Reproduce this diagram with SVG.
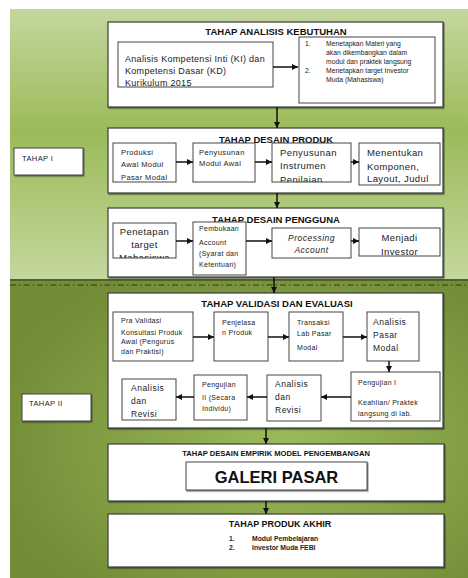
<svg xmlns="http://www.w3.org/2000/svg" width="468" height="578" viewBox="0 0 468 578">
<defs>
<linearGradient id="gTop" x1="0" y1="0" x2="0" y2="1">
<stop offset="0" stop-color="#c4d79f"/>
<stop offset="0.45" stop-color="#9bbb59"/>
<stop offset="1" stop-color="#c4d79f"/>
</linearGradient>
<radialGradient id="gBot" cx="0.6" cy="0.55" r="0.65">
<stop offset="0" stop-color="#9bbb59"/>
<stop offset="1" stop-color="#728c37"/>
</radialGradient>
<filter id="sh" x="-5%" y="-5%" width="110%" height="115%">
<feDropShadow dx="1" dy="1.2" stdDeviation="0.6" flood-color="#222" flood-opacity="0.55"/>
</filter>
<marker id="ah" markerUnits="userSpaceOnUse" markerWidth="6" markerHeight="6" refX="6" refY="3" orient="auto">
<path d="M0,0 L6,3 L0,6 z" fill="#111"/>
</marker>
<clipPath id="c1"><rect x="118" y="42" width="155" height="45"/></clipPath>
<clipPath id="c2a"><rect x="113" y="143" width="63" height="39"/></clipPath>
<clipPath id="c2c"><rect x="272" y="143" width="79" height="39"/></clipPath>
<clipPath id="c3a"><rect x="113" y="223" width="63" height="35"/></clipPath>
<clipPath id="c3d"><rect x="359" y="228" width="81" height="28"/></clipPath>
</defs>
<style>
.ob{fill:#fff;stroke:#3a3a3a;stroke-width:1.2;filter:url(#sh)}
.ib{fill:#fff;stroke:#444;stroke-width:1}
.ttl{font-family:"Liberation Sans",Arial,sans-serif;font-weight:bold;fill:#111;text-anchor:middle}
.tx{font-family:"Liberation Sans",Arial,sans-serif;fill:#222}
.s7{font-size:7px;letter-spacing:0.3px}
.s75{font-size:7.5px;letter-spacing:0.4px}
.s85{font-size:8.5px;letter-spacing:0.5px}
.s95{font-size:9.5px;letter-spacing:0.4px}
.ln{stroke:#111;stroke-width:1.5;fill:none;marker-end:url(#ah)}
</style>
<rect x="0" y="0" width="468" height="578" fill="#fff"/>
<rect x="10" y="9" width="458" height="271" fill="url(#gTop)"/>
<rect x="10" y="279" width="458" height="299" fill="url(#gBot)"/>
<line x1="10" y1="280" x2="468" y2="280" stroke="#4f6228" stroke-width="2"/>
<line x1="10" y1="285" x2="468" y2="285" stroke="#2e3a17" stroke-width="1" stroke-dasharray="6,3,1.5,3"/>

<g id="tahap1">
<rect class="ib" x="14" y="148" width="69" height="27" filter="url(#sh)"/>
<text class="tx s75" x="22" y="161">TAHAP I</text>
</g>
<g id="tahap2">
<rect class="ib" x="22" y="394" width="69" height="27" filter="url(#sh)"/>
<text class="tx s75" x="29" y="406">TAHAP II</text>
</g>

<g id="analisis">
<rect class="ob" x="108" y="22" width="335" height="85"/>
<text class="ttl" x="276" y="34.5" font-size="9.5">TAHAP ANALISIS KEBUTUHAN</text>
<rect class="ib" x="118" y="42" width="155" height="45"/>
<g clip-path="url(#c1)">
<text class="tx" font-size="9" letter-spacing="0.3" x="125" y="62">Analisis Kompetensi Inti (KI) dan</text>
<text class="tx" font-size="9" letter-spacing="0.3" x="125" y="74">Kompetensi Dasar (KD)</text>
<text class="tx" font-size="9" letter-spacing="0.3" x="125" y="85.5">Kurikulum 2015</text>
</g>
<rect class="ib" x="299" y="37" width="136" height="66"/>
<g class="tx" font-size="6.8">
<text x="305" y="45.5">1.</text>
<text x="326" y="45.5">Menetapkan Materi yang</text>
<text x="326" y="54.5">akan dikembangkan dalam</text>
<text x="326" y="63.5">modul dan praktek langsung</text>
<text x="305" y="72.5">2.</text>
<text x="326" y="72.5">Menetapkan target Investor</text>
<text x="326" y="81.5">Muda (Mahasiswa)</text>
</g>
</g>

<g id="desain-produk">
<rect class="ob" x="108" y="128" width="335" height="65"/>
<text class="ttl" x="276" y="142.5" font-size="9.5">TAHAP DESAIN PRODUK</text>
<rect class="ib" x="113" y="143" width="63" height="39"/>
<g clip-path="url(#c2a)">
<text class="tx s75" x="121" y="155">Produksi</text>
<text class="tx s75" x="121" y="167">Awal Modul</text>
<text class="tx s75" x="121" y="180">Pasar Modal</text>
</g>
<rect class="ib" x="193" y="143" width="62" height="39"/>
<text class="tx s75" x="199" y="155">Penyusunan</text>
<text class="tx s75" x="199" y="166">Modul Awal</text>
<rect class="ib" x="272" y="143" width="79" height="39"/>
<g clip-path="url(#c2c)">
<text class="tx s95" x="280" y="155.5">Penyusunan</text>
<text class="tx s95" x="280" y="169">Instrumen</text>
<text class="tx s95" x="280" y="182.5">Penilaian</text>
</g>
<rect class="ib" x="359" y="143" width="81" height="42"/>
<text class="tx s95" x="367" y="155.5">Menentukan</text>
<text class="tx s95" x="367" y="169.5">Komponen,</text>
<text class="tx s95" x="367" y="181.5">Layout, Judul</text>
</g>

<g id="desain-pengguna">
<rect class="ob" x="108" y="208" width="335" height="69"/>
<text class="ttl" x="276" y="222.5" font-size="9.5">TAHAP DESAIN PENGGUNA</text>
<rect class="ib" x="113" y="223" width="63" height="35"/>
<g clip-path="url(#c3a)" text-anchor="middle">
<text class="tx s95" x="144.5" y="235">Penetapan</text>
<text class="tx s95" x="144.5" y="248">target</text>
<text class="tx s95" x="144.5" y="261">Mahasiswa</text>
</g>
<rect class="ib" x="193" y="222" width="53" height="53"/>
<text class="tx s7" x="199" y="230.5">Pembukaan</text>
<text class="tx s7" x="199" y="244.5">Account</text>
<text class="tx s7" x="199" y="255.5">(Syarat dan</text>
<text class="tx s7" x="199" y="266.5">Ketentuan)</text>
<rect class="ib" x="272" y="228" width="79" height="30"/>
<text class="tx s85" x="311.5" y="241" text-anchor="middle" font-style="italic">Processing</text>
<text class="tx s85" x="311.5" y="253" text-anchor="middle" font-style="italic">Account</text>
<rect class="ib" x="359" y="228" width="81" height="28"/>
<g clip-path="url(#c3d)" text-anchor="middle">
<text class="tx s95" x="399.5" y="241">Menjadi</text>
<text class="tx s95" x="399.5" y="254.5">Investor</text>
</g>
</g>

<g id="validasi">
<rect class="ob" x="108" y="293" width="335" height="135"/>
<text class="ttl" x="277" y="306.5" font-size="9.5">TAHAP VALIDASI DAN EVALUASI</text>
<rect class="ib" x="113" y="312" width="80" height="49"/>
<text class="tx s7" x="121" y="322.5">Pra Validasi</text>
<text class="tx s7" x="121" y="334.5">Konsultasi Produk</text>
<text class="tx s7" x="121" y="344">Awal (Pengurus</text>
<text class="tx s7" x="121" y="354">dan Praktisi)</text>
<rect class="ib" x="214" y="312" width="54" height="49"/>
<text class="tx s7" x="222" y="324.5">Penjelasa</text>
<text class="tx s7" x="222" y="334.5">n Produk</text>
<rect class="ib" x="289" y="312" width="54" height="49"/>
<text class="tx s7" x="297" y="324.5">Transaksi</text>
<text class="tx s7" x="297" y="335.5">Lab Pasar</text>
<text class="tx s7" x="297" y="349.5">Modal</text>
<rect class="ib" x="367" y="312" width="52" height="49"/>
<text class="tx s85" x="373" y="325">Analisis</text>
<text class="tx s85" x="373" y="338">Pasar</text>
<text class="tx s85" x="373" y="351">Modal</text>
<rect class="ib" x="351" y="372" width="89" height="49"/>
<text class="tx s7" x="358" y="384.5">Pengujian I</text>
<text class="tx s7" x="358" y="404.5">Keahlian/ Praktek</text>
<text class="tx s7" x="358" y="415.5">langsung di lab.</text>
<rect class="ib" x="267" y="375" width="54" height="46"/>
<text class="tx s85" x="275" y="387">Analisis</text>
<text class="tx s85" x="275" y="400">dan</text>
<text class="tx s85" x="275" y="413">Revisi</text>
<rect class="ib" x="194" y="375" width="53" height="45"/>
<text class="tx s7" x="202" y="386.5">Pengujian</text>
<text class="tx s7" x="202" y="399.5">II (Secara</text>
<text class="tx s7" x="202" y="410.5">Individu)</text>
<rect class="ib" x="122" y="379" width="54" height="41"/>
<text class="tx s85" x="131" y="391">Analisis</text>
<text class="tx s85" x="131" y="404">dan</text>
<text class="tx s85" x="131" y="417">Revisi</text>
</g>

<g id="empirik">
<rect class="ob" x="108" y="444" width="336" height="57"/>
<text class="ttl" x="276" y="455.5" font-size="7.6">TAHAP DESAIN EMPIRIK MODEL PENGEMBANGAN</text>
<rect class="ib" x="186" y="462" width="181" height="28" filter="url(#sh)"/>
<text class="ttl" x="276.5" y="483" font-size="16.5">GALERI PASAR</text>
</g>

<g id="produk-akhir">
<rect class="ob" x="108" y="514" width="336" height="53"/>
<text class="ttl" x="280" y="527" font-size="9">TAHAP PRODUK AKHIR</text>
<g class="tx" font-size="6.8" font-weight="bold">
<text x="229" y="541">1.</text>
<text x="252" y="541">Modul Pembelajaran</text>
<text x="229" y="549.5">2.</text>
<text x="252" y="549.5">Investor Muda FEBI</text>
</g>
</g>

<g id="connectors">
<line class="ln" x1="273" y1="67" x2="298" y2="67"/>
<line class="ln" x1="277" y1="107" x2="277" y2="128"/>
<line class="ln" x1="176" y1="162" x2="193" y2="162"/>
<line class="ln" x1="255" y1="162" x2="272" y2="162"/>
<line class="ln" x1="351" y1="162" x2="359" y2="162"/>
<line class="ln" x1="277" y1="193" x2="277" y2="208"/>
<line class="ln" x1="176" y1="241" x2="193" y2="241"/>
<line class="ln" x1="246" y1="241" x2="272" y2="241"/>
<line class="ln" x1="351" y1="241" x2="359" y2="241"/>
<line class="ln" x1="274" y1="277" x2="274" y2="293"/>
<line class="ln" x1="193" y1="337" x2="214" y2="337"/>
<line class="ln" x1="268" y1="337" x2="289" y2="337"/>
<line class="ln" x1="343" y1="337" x2="367" y2="337"/>
<line class="ln" x1="389" y1="361" x2="389" y2="372"/>
<line class="ln" x1="351" y1="397" x2="321" y2="397"/>
<line class="ln" x1="267" y1="397" x2="247" y2="397"/>
<line class="ln" x1="194" y1="397" x2="176" y2="397"/>
<line class="ln" x1="266" y1="428" x2="266" y2="444"/>
<line class="ln" x1="266" y1="501" x2="266" y2="514"/>
</g>
</svg>
